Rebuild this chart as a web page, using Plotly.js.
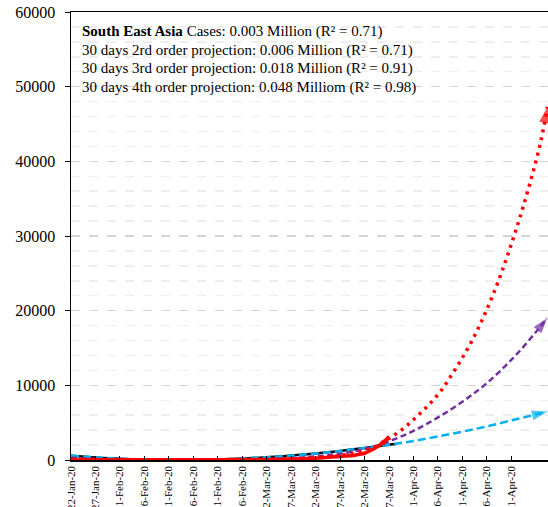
<!DOCTYPE html>
<html>
<head>
<meta charset="utf-8">
<script src="https://cdn.plot.ly/plotly-3.0.1.min.js"></script>
<style>html,body{margin:0;padding:0;background:#fff;}#chart{width:548px;height:507px;}</style>
</head>
<body>
<div id="chart"></div>
<script>
// Tick labels (day index counted from 22-Jan-20)
const tickDays = [0,5,10,15,20,25,30,35,40,45,50,55,60,65,70,75,80,85,90];
const tickLabels = ['22-Jan-20','27-Jan-20','1-Feb-20','6-Feb-20','11-Feb-20','16-Feb-20','21-Feb-20','26-Feb-20','2-Mar-20','7-Mar-20','12-Mar-20','17-Mar-20','22-Mar-20','27-Mar-20','1-Apr-20','6-Apr-20','11-Apr-20','16-Apr-20','21-Apr-20'];

// Actual cases (red solid)
const actualDays = [0,5,10,15,20,25,30,35,40,45,48,50,52,54,56,58,59,60,61,62,63,64,65];
const actualCases = [10,20,25,35,40,45,50,60,80,130,200,250,320,420,520,650,760,900,1200,1550,1950,2450,3150];

// 2nd order fit over the actual period (black solid)
const fitDays = [0,5,10,15,20,25,30,35,40,45,50,55,60,65,66.5];
const fit2Actual = [580,350,170,60,10,15,80,200,380,600,880,1220,1600,2050,2150];

// 30 days 2nd order projection (blue dashed)
const proj2Days = [0,5,10,15,20,25,30,35,40,45,50,55,60,65,70,75,80,85,90,95,97.3];
const proj2 = [580,350,170,60,10,15,80,200,380,600,880,1220,1600,2050,2550,3150,3800,4500,5300,6100,6500];

// 30 days 3rd order projection (purple dashed)
const proj3Days = [0,5,10,15,20,25,30,35,40,45,50,55,60,65,70,75,80,85,90,95,97.3];
const proj3 = [300,150,60,20,10,10,20,50,120,250,480,850,1450,2500,3900,5700,7800,10300,13400,17100,19000];

// 30 days 4th order projection (red dotted)
const proj4Days = [0,5,10,15,20,25,30,35,40,45,50,55,60,62,64,66,68,70,72,74,76,78,80,82,84,86,88,90,92,94,96,97.4];
const proj4 = [150,60,20,0,0,0,0,0,20,80,250,600,1300,1750,2450,3300,4250,5400,6650,8000,9600,11600,13700,16000,18700,21700,25100,28900,33000,37500,42600,47300];

const annoLines = [
  '<b>South East Asia</b> Cases: 0.003 Million (R² = 0.71)',
  '30 days 2rd order projection: 0.006 Million (R² = 0.71)',
  '30 days 3rd order projection: 0.018 Million (R² = 0.91)',
  '30 days 4th order projection: 0.048 Milliom (R² = 0.98)'
];

function arrowMarker(n, color, size) {
  return {
    color: color,
    symbol: Array.from({length: n}, (_, i) => i === n - 1 ? 'arrow' : 'circle'),
    size: Array.from({length: n}, (_, i) => i === n - 1 ? size : 0),
    angleref: 'previous',
    line: {width: 0}
  };
}

const traces = [
  {x: fitDays, y: fit2Actual, mode: 'lines', line: {color: '#000000', width: 2.5, shape: 'spline'}},
  {x: proj2Days, y: proj2, mode: 'lines+markers', line: {color: '#00B0F0', width: 2.5, dash: '8px,4px', shape: 'spline'},
   marker: arrowMarker(proj2Days.length, '#00B0F0', 16), cliponaxis: false},
  {x: proj3Days, y: proj3, mode: 'lines+markers', line: {color: '#7030A0', width: 2.5, dash: '6px,3.5px', shape: 'spline'},
   marker: arrowMarker(proj3Days.length, '#7030A0', 16), cliponaxis: false},
  {x: actualDays, y: actualCases, mode: 'lines+markers', line: {color: '#FF0000', width: 3.5, shape: 'spline'},
   marker: arrowMarker(actualDays.length, '#FF0000', 10)},
  {x: proj4Days, y: proj4, mode: 'lines+markers', line: {color: '#FF0000', width: 3.5, dash: '3px,5px', shape: 'spline'},
   marker: arrowMarker(proj4Days.length, '#FF0000', 17), cliponaxis: false}
];

const font = 'Liberation Serif, Times New Roman, serif';
const annoY = [31.5, 50, 68.5, 87];
const plotTop = 12, plotBottom = 460;

const layout = {
  width: 548, height: 507,
  margin: {l: 71, r: 0, t: 12, b: 47, pad: 0},
  paper_bgcolor: '#ffffff', plot_bgcolor: '#ffffff',
  showlegend: false,
  font: {family: font, color: '#000000', size: 15},
  xaxis: {
    range: [0, 97.5], tickmode: 'array', tickvals: tickDays, ticktext: tickLabels,
    tickangle: -90, tickfont: {family: font, size: 11, color: '#000'},
    showgrid: false, zeroline: false,
    showline: true, linecolor: '#000000', linewidth: 1.5, mirror: true,
    ticks: 'inside', ticklen: 4, tickcolor: '#000000', tickwidth: 1,
    automargin: false, fixedrange: true
  },
  yaxis: {
    range: [0, 60000], dtick: 10000, tick0: 0, tickformat: 'd',
    tickfont: {family: font, size: 16, color: '#000'},
    showline: true, linecolor: '#000000', linewidth: 1.5,
    ticks: 'outside', ticklen: 5, tickcolor: '#000000', ticklabelstandoff: 6,
    showgrid: true, gridcolor: '#d4d4d4', gridwidth: 1.2, griddash: 'dash',
    minor: {dtick: 2000, showgrid: true, gridcolor: '#eeeeee', gridwidth: 1.5, ticks: ''},
    zeroline: false, automargin: false, fixedrange: true
  },
  annotations: annoLines.map((t, i) => ({
    text: t, xref: 'paper', yref: 'paper',
    x: (80 - 71) / 477, y: (plotBottom - annoY[i]) / (plotBottom - plotTop),
    xanchor: 'left', yanchor: 'middle', showarrow: false,
    font: {family: font, size: 15, color: '#000'}
  }))
};

Plotly.newPlot('chart', traces, layout, {staticPlot: true, displayModeBar: false});
</script>
</body>
</html>
